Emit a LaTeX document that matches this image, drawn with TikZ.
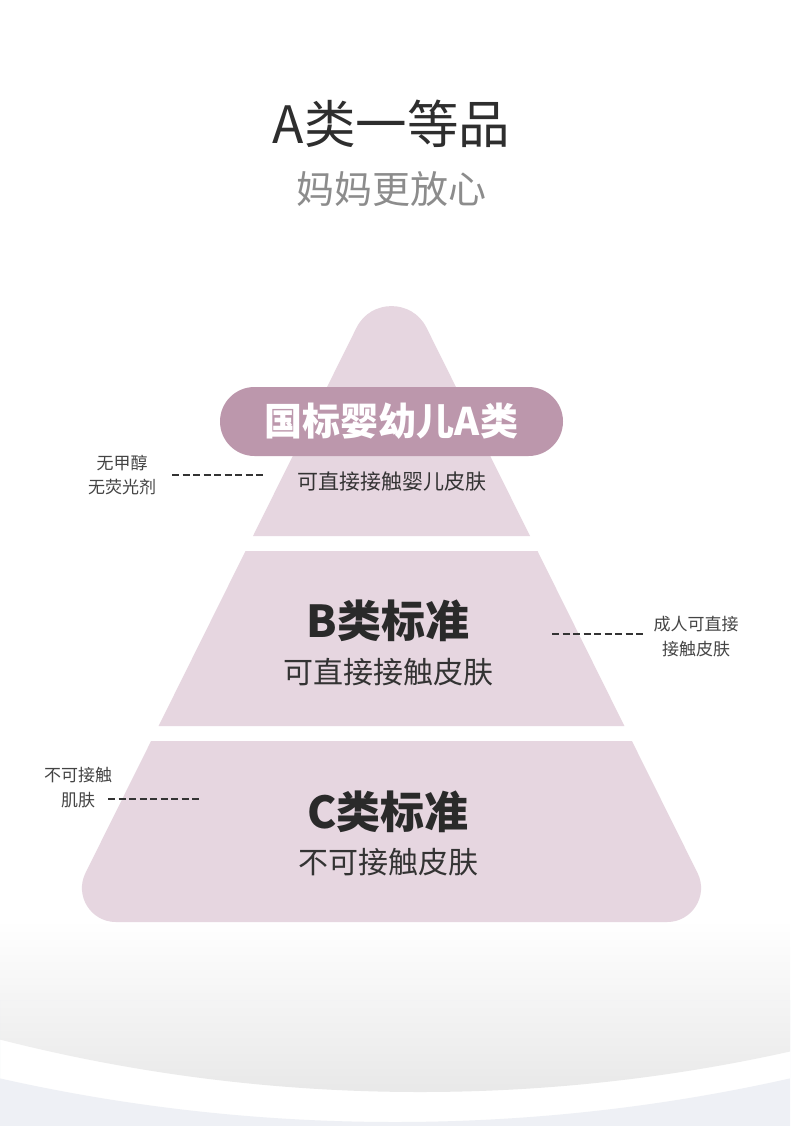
\documentclass[tikz,border=0pt]{standalone}
\usepackage{fontspec}
\setmainfont{Noto Sans CJK SC}
\definecolor{pyr}{HTML}{E6D6E0}
\definecolor{bannerc}{HTML}{BC97AC}
\definecolor{titlec}{HTML}{2E2E2E}
\definecolor{subc}{HTML}{8C8C8C}
\definecolor{headc}{HTML}{2A2A2A}
\definecolor{bodyc}{HTML}{333333}
\definecolor{lblc}{HTML}{444444}
\definecolor{dashc}{HTML}{333333}
\definecolor{graybot}{HTML}{E8E8E8}
\definecolor{bluegray}{HTML}{EEF0F5}
\begin{document}
\begin{tikzpicture}[x=1pt,y=-1pt,
  sidelbl/.style={font=\fontsize{17}{24.5}\selectfont, text=lblc, align=center, inner sep=0pt},
  dashline/.style={draw=dashc, line width=1.7pt, dash pattern=on 7pt off 3.5pt},
  headtxt/.style={font=\fontsize{44}{48}\selectfont\bfseries, text=headc, inner sep=0pt},
  bodytxt/.style={font=\fontsize{30}{34}\selectfont, text=bodyc, inner sep=0pt},
 ]
\useasboundingbox (0,0) rectangle (790,1126);
\fill[white] (0,0) rectangle (790,1126);
% bottom background
\begin{scope}
  \clip (420,-603) circle[radius=1695pt];
  \shade[top color=white, bottom color=graybot] (0,920) rectangle (790,1095);
\end{scope}
\begin{scope}
  \clip (0,1000) rectangle (790,1126);
  \fill[bluegray, even odd rule] (0,1000) rectangle (790,1126) (395,-673) circle[radius=1795pt];
\end{scope}
% pyramid tiers
\fill[pyr] (253,536) -- (356.5,327.7) .. controls (370.8,298.9) and (412.2,298.9) .. (426.5,327.7) -- (530,536) -- cycle;
\fill[pyr] (245.5,551) -- (537.5,551) -- (624.4,726) -- (158.6,726) -- cycle;
\fill[pyr] (151.1,741) -- (631.9,741) -- (697.5,872.9) .. controls (708.7,895.5) and (692.3,922) .. (667.1,922)
  -- (115.9,922) .. controls (90.7,922) and (74.3,895.5) .. (85.5,872.9) -- cycle;
% titles
\node[font=\fontsize{51.5}{55}\selectfont, text=titlec, inner sep=0pt] (title) at (391.5,124) {A类一等品};
\node[font=\fontsize{38}{42}\selectfont, text=subc, inner sep=0pt] (subtitle) at (391.5,189) {妈妈更放心};
% banner
\node[fill=bannerc, rounded corners=34.5pt, minimum width=343pt, minimum height=69pt, inner sep=0pt,
  text=white, font=\fontsize{38}{42}\selectfont\bfseries] (banner) at (391.5,421.5) {国标婴幼儿A类};
\node[font=\fontsize{21}{24}\selectfont, text=bodyc, inner sep=0pt] (atext) at (392,482) {可直接接触婴儿皮肤};
% tier B
\node[headtxt] (bhead) at (388,621) {B类标准};
\node[bodytxt] (btext) at (388,672) {可直接接触皮肤};
% tier C
\node[headtxt] (chead) at (388,812) {C类标准};
\node[bodytxt] (ctext) at (388,862) {不可接触皮肤};
% side labels
\node[sidelbl] (lblA) at (122,475) {无甲醇\\无荧光剂};
\node[sidelbl] (lblB) at (696,636.5) {成人可直接\\接触皮肤};
\node[sidelbl] (lblC) at (78,787.5) {不可接触\\肌肤};
\coordinate (dA1) at (172,475);
\coordinate (dA2) at (265,475);
\coordinate (dB1) at (552,634);
\coordinate (dB2) at (644,634);
\coordinate (dC1) at (108,799);
\coordinate (dC2) at (199,799);
\draw[dashline] (dA1) -- (dA2);
\draw[dashline] (dB1) -- (dB2);
\draw[dashline] (dC1) -- (dC2);
\end{tikzpicture}
\end{document}
